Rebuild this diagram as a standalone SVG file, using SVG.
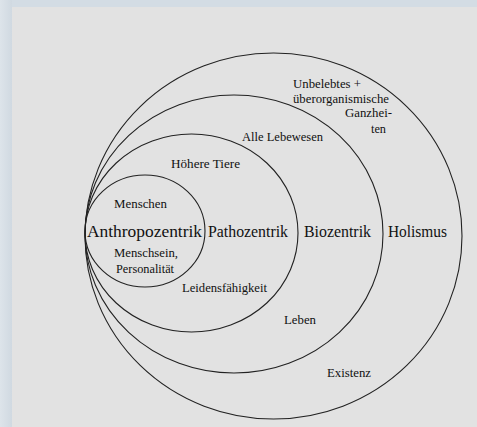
<svg xmlns="http://www.w3.org/2000/svg" width="477" height="427" viewBox="0 0 477 427">
<style>
.c{fill:none;stroke:#222;stroke-width:1.1}
.s{font-family:"Liberation Serif",serif;font-size:12px;fill:#111}
.b{font-family:"Liberation Serif",serif;font-size:16px;fill:#111}
</style>
<defs>
<linearGradient id="fl" x1="0" y1="0" x2="1" y2="0">
<stop offset="0" stop-color="#dde4ea"/><stop offset="1" stop-color="#d0d9e1"/>
</linearGradient>
</defs>
<rect width="477" height="427" fill="#d3dce4"/>
<rect width="12" height="427" fill="url(#fl)"/>
<rect x="12" y="7" width="465" height="420" fill="#e2e2e2"/>
<g id="connectors"/>
<g id="holismus">
<ellipse class="c" cx="273.5" cy="236" rx="188.5" ry="183"/>
<text class="b" x="388" y="237" textLength="59" lengthAdjust="spacingAndGlyphs">Holismus</text>
<text class="s" x="293" y="88" textLength="68" lengthAdjust="spacingAndGlyphs">Unbelebtes +</text>
<text class="s" x="293" y="103" textLength="96" lengthAdjust="spacingAndGlyphs">überorganismische</text>
<text class="s" x="345" y="117" textLength="47" lengthAdjust="spacingAndGlyphs">Ganzhei-</text>
<text class="s" x="371" y="133" textLength="15" lengthAdjust="spacingAndGlyphs">ten</text>
<text class="s" x="327" y="377" textLength="44" lengthAdjust="spacingAndGlyphs">Existenz</text>
</g>
<g id="biozentrik">
<ellipse class="c" cx="234" cy="234" rx="149" ry="139"/>
<text class="b" x="304" y="237" textLength="67" lengthAdjust="spacingAndGlyphs">Biozentrik</text>
<text class="s" x="242" y="141" textLength="81" lengthAdjust="spacingAndGlyphs">Alle Lebewesen</text>
<text class="s" x="284" y="324" textLength="32" lengthAdjust="spacingAndGlyphs">Leben</text>
</g>
<g id="pathozentrik">
<ellipse class="c" cx="191.5" cy="233" rx="106.5" ry="99"/>
<text class="b" x="208" y="237" textLength="80" lengthAdjust="spacingAndGlyphs">Pathozentrik</text>
<text class="s" x="171" y="168" textLength="69" lengthAdjust="spacingAndGlyphs">Höhere Tiere</text>
<text class="s" x="182" y="292" textLength="85" lengthAdjust="spacingAndGlyphs">Leidensfähigkeit</text>
</g>
<g id="anthropozentrik">
<ellipse class="c" cx="145" cy="231" rx="60" ry="56"/>
<text class="b" x="87" y="237" textLength="115" lengthAdjust="spacingAndGlyphs">Anthropozentrik</text>
<text class="s" x="114" y="208" textLength="53" lengthAdjust="spacingAndGlyphs">Menschen</text>
<text class="s" x="114" y="257" textLength="64" lengthAdjust="spacingAndGlyphs">Menschsein,</text>
<text class="s" x="116" y="273" textLength="58" lengthAdjust="spacingAndGlyphs">Personalität</text>
</g>
</svg>
